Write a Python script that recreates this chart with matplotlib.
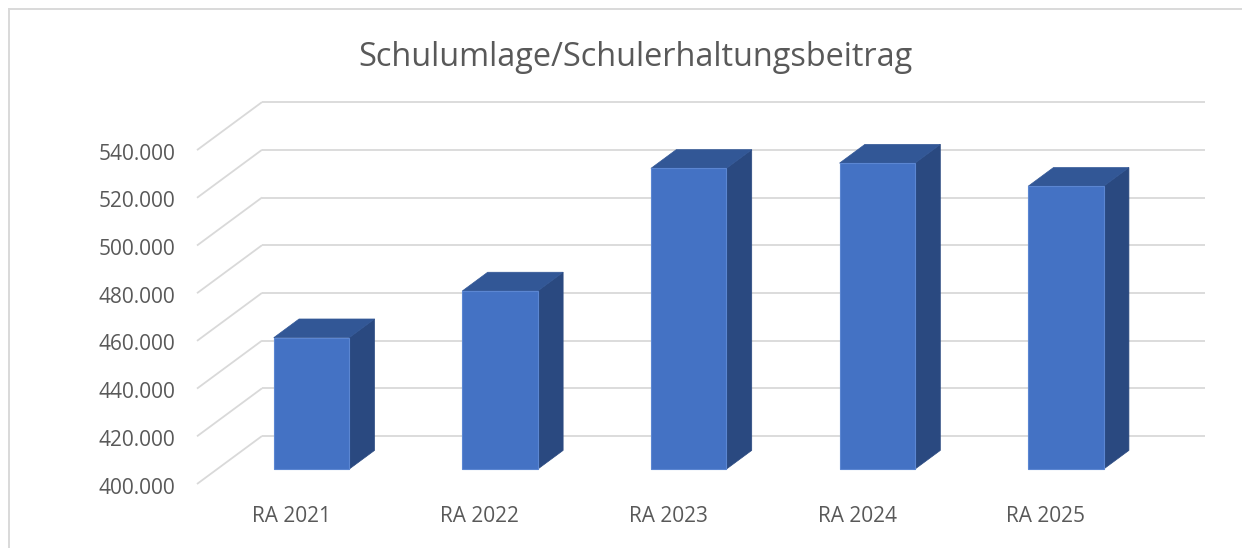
import matplotlib
matplotlib.use('Agg')
import matplotlib.pyplot as plt
from matplotlib.patches import Polygon
from matplotlib.lines import Line2D

# Daten
kategorien = ['RA 2021', 'RA 2022', 'RA 2023', 'RA 2024', 'RA 2025']
werte = [455100, 474700, 526100, 528300, 518600]
y_ticks = [400000, 420000, 440000, 460000, 480000, 500000, 520000, 540000]
titel = 'Schulumlage/Schulerhaltungsbeitrag'

W, H = 1242, 548
fig = plt.figure(figsize=(W / 100, H / 100), dpi=100)

# Geometrie (Pixel) der Pseudo-3D-Darstellung
links_px, rechts_px = 197, 1140      # vordere Ebene
unten_px = 484                        # 400.000 vorne
px_pro_schritt = 47.7                 # Pixel pro 20.000
tiefe_dx_px, tiefe_dy_px = 65, 48
oben_px = unten_px - tiefe_dy_px - px_pro_schritt * (len(y_ticks) - 1)

cat_px = (rechts_px - links_px) / len(kategorien)
DX = tiefe_dx_px / cat_px
DY = tiefe_dy_px / px_pro_schritt * 20000
ymin = y_ticks[0]

ax = fig.add_axes([links_px / W, (H - unten_px) / H,
                   (rechts_px + tiefe_dx_px - links_px) / W, (unten_px - oben_px) / H])
ax.set_xlim(-0.5, len(kategorien) - 0.5 + DX)
ax.set_ylim(ymin, y_ticks[-1] + DY)
ax.axis('off')

grid_col = '#D9D9D9'
text_col = '#595959'
xl = -0.5
xr = len(kategorien) - 0.5

# Gitterlinien: Rueckwand + schraege Linien am Boden links
for v in y_ticks:
    ax.plot([xl + DX, xr + DX], [v + DY, v + DY], color=grid_col, lw=1.3, zorder=1,
            clip_on=False, solid_capstyle='butt')
    ax.plot([xl, xl + DX], [v, v + DY], color=grid_col, lw=1.3, zorder=1,
            clip_on=False, solid_capstyle='butt')
    ax.annotate(f'{v:,}'.replace(',', '.'), (xl, v), xytext=(-22, -4),
                textcoords='offset pixels', ha='right', va='center',
                fontsize=15, color=text_col, family='Open Sans')

# Balken
breite = 0.4
f0, f1 = 0.31, 0.70
c_front, c_top, c_side = '#4472C4', '#325796', '#2A4980'
for i, v in enumerate(werte):
    x_a = i - breite / 2 + f0 * DX
    x_b = i + breite / 2 + f0 * DX
    basis = ymin + f0 * DY
    spitze = v + f0 * DY
    ddx = (f1 - f0) * DX
    ddy = (f1 - f0) * DY
    seite = Polygon([(x_b, basis), (x_b + ddx, basis + ddy), (x_b + ddx, spitze + ddy), (x_b, spitze)],
                    closed=True, facecolor=c_side, edgecolor=c_side, lw=0.5, zorder=3, clip_on=False)
    deckel = Polygon([(x_a, spitze), (x_b, spitze), (x_b + ddx, spitze + ddy), (x_a + ddx, spitze + ddy)],
                     closed=True, facecolor=c_top, edgecolor=c_top, lw=0.5, zorder=3, clip_on=False)
    front = Polygon([(x_a, basis), (x_b, basis), (x_b, spitze), (x_a, spitze)],
                    closed=True, facecolor=c_front, edgecolor='#5B86D2', lw=0.8, zorder=4, clip_on=False)
    ax.add_patch(seite)
    ax.add_patch(deckel)
    ax.add_patch(front)
    ax.annotate(kategorien[i], (i, ymin), xytext=(0, -33), textcoords='offset pixels',
                ha='center', va='center', fontsize=15, color=text_col, family='Open Sans')

# Titel, Breite an Vorlage anpassen
t = fig.text(635.5 / W, 1 - 57 / H, titel, ha='center', va='center',
             fontsize=22, color=text_col, family='Open Sans')
fig.canvas.draw()
breite_px = t.get_window_extent().width
t.set_fontsize(22 * 557 / breite_px)

# Rahmen
fig.add_artist(Line2D([9 / W, 9 / W], [0, 1 - 9 / H], color=grid_col, lw=1.4))
fig.add_artist(Line2D([9 / W, 1], [1 - 9 / H, 1 - 9 / H], color=grid_col, lw=1.4))

fig.savefig('out.png', dpi=100)
